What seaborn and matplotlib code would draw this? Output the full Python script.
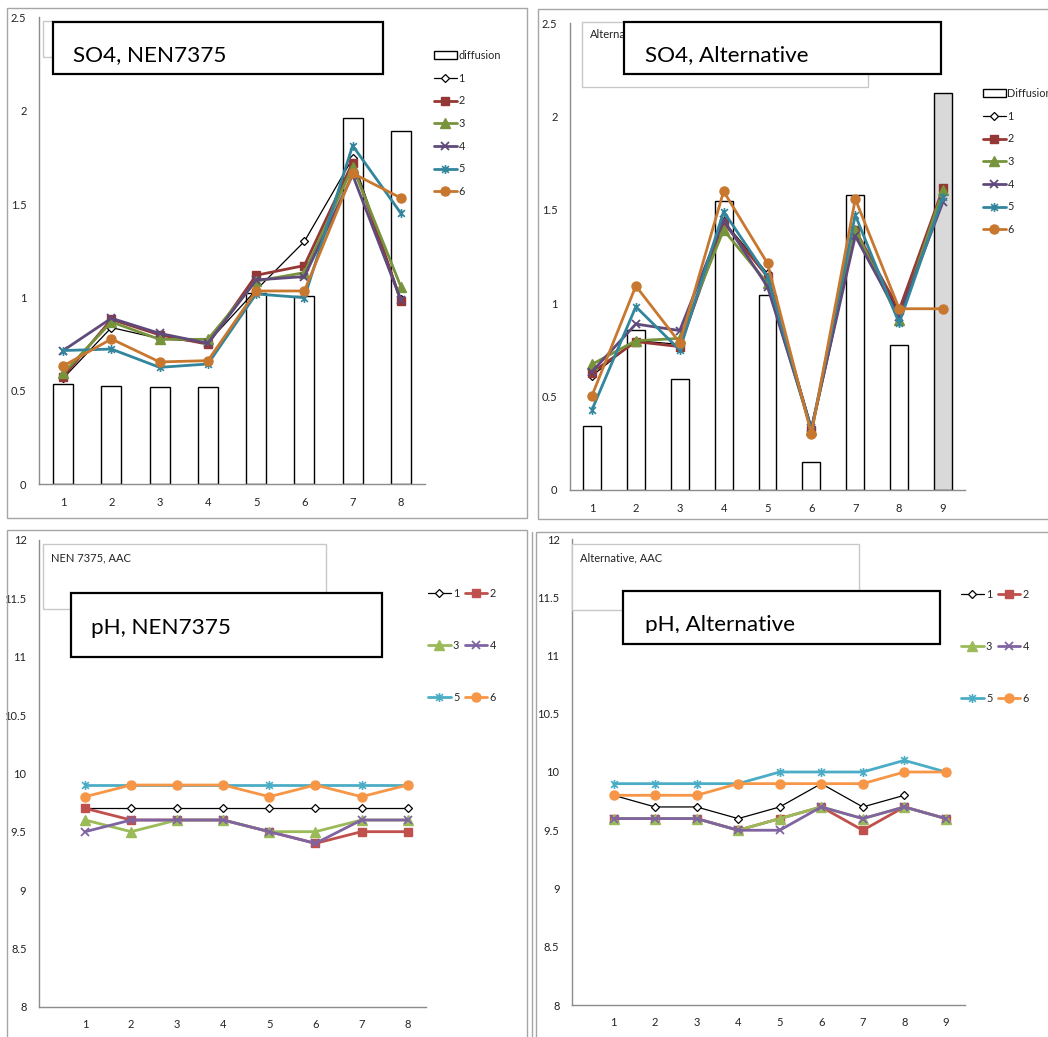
import numpy as np
import matplotlib
matplotlib.use("Agg")
import matplotlib.pyplot as plt
import seaborn as sns
from matplotlib.patches import Rectangle
from matplotlib.lines import Line2D
from matplotlib.path import Path

# ---------------- data ----------------
# SO4 leaching, NEN 7375 (8 fractions)
so4_nen_x = [1, 2, 3, 4, 5, 6, 7, 8]
so4_nen_diffusion = [0.535, 0.528, 0.523, 0.519, 1.026, 1.008, 1.963, 1.890]
so4_nen_s1 = [0.567, 0.839, 0.780, 0.760, 1.040, 1.300, 1.745, 0.990]
so4_nen_s2 = [0.576, 0.883, 0.800, 0.750, 1.119, 1.171, 1.722, 0.983]
so4_nen_s3 = [0.594, 0.869, 0.776, 0.776, 1.088, 1.133, 1.700, 1.058]
so4_nen_s4 = [0.716, 0.889, 0.808, 0.755, 1.094, 1.112, 1.656, 0.987]
so4_nen_s5 = [0.716, 0.724, 0.626, 0.644, 1.019, 0.999, 1.813, 1.451]
so4_nen_s6 = [0.633, 0.778, 0.655, 0.662, 1.035, 1.035, 1.665, 1.533]

# SO4 leaching, alternative test (9 fractions)
so4_alt_x = [1, 2, 3, 4, 5, 6, 7, 8, 9]
so4_alt_diffusion = [0.343, 0.857, 0.593, 1.546, 1.043, 0.150, 1.579, 0.775, 2.129]
so4_alt_s1 = [0.611, 0.800, 0.780, 1.440, 1.160, 0.340, 1.375, 0.946, 1.590]
so4_alt_s2 = [0.629, 0.795, 0.768, 1.432, 1.143, 0.320, 1.393, 0.964, 1.616]
so4_alt_s3 = [0.673, 0.800, 0.812, 1.393, 1.107, 0.320, 1.393, 0.910, 1.607]
so4_alt_s4 = [0.634, 0.889, 0.854, 1.446, 1.089, 0.330, 1.360, 0.929, 1.545]
so4_alt_s5 = [0.429, 0.982, 0.750, 1.491, 1.143, 0.320, 1.473, 0.893, 1.571]
so4_alt_s6 = [0.505, 1.093, 0.789, 1.600, 1.214, 0.300, 1.559, 0.971, 0.971]

# pH, NEN 7375
ph_nen_x = [1, 2, 3, 4, 5, 6, 7, 8]
ph_nen_s1 = [9.7, 9.7, 9.7, 9.7, 9.7, 9.7, 9.7, 9.7]
ph_nen_s2 = [9.7, 9.6, 9.6, 9.6, 9.5, 9.4, 9.5, 9.5]
ph_nen_s3 = [9.6, 9.5, 9.6, 9.6, 9.5, 9.5, 9.6, 9.6]
ph_nen_s4 = [9.5, 9.6, 9.6, 9.6, 9.5, 9.4, 9.6, 9.6]
ph_nen_s5 = [9.9, 9.9, 9.9, 9.9, 9.9, 9.9, 9.9, 9.9]
ph_nen_s6 = [9.8, 9.9, 9.9, 9.9, 9.8, 9.9, 9.8, 9.9]

# pH, alternative test
ph_alt_x = [1, 2, 3, 4, 5, 6, 7, 8, 9]
ph_alt_s1 = [9.8, 9.7, 9.7, 9.6, 9.7, 9.9, 9.7, 9.8, np.nan]
ph_alt_s2 = [9.6, 9.6, 9.6, 9.5, 9.6, 9.7, 9.5, 9.7, 9.6]
ph_alt_s3 = [9.6, 9.6, 9.6, 9.5, 9.6, 9.7, 9.6, 9.7, 9.6]
ph_alt_s4 = [9.6, 9.6, 9.6, 9.5, 9.5, 9.7, 9.6, 9.7, 9.6]
ph_alt_s5 = [9.9, 9.9, 9.9, 9.9, 10.0, 10.0, 10.0, 10.1, 10.0]
ph_alt_s6 = [9.8, 9.8, 9.8, 9.9, 9.9, 9.9, 9.9, 10.0, 10.0]

series_labels = ["1", "2", "3", "4", "5", "6"]

# ---------------- style ----------------
sns.set_style("white")
plt.rcParams["font.family"] = ["Lato", "DejaVu Sans"]

W, H = 1048, 1037
fig = plt.figure(figsize=(W / 100, H / 100), dpi=100)

GRAY = "#8c8c8c"
FRAME = "#a6a6a6"
dark_colors = ["black", "#953735", "#77933C", "#604A7B", "#31859C", "#C8772F"]
light_colors = ["black", "#C0504D", "#9BBB59", "#8064A2", "#4BACC6", "#F79646"]

# asterisk marker: vertical bar plus a cross
STAR = Path([(0, -1), (0, 1), (-0.75, -0.75), (0.75, 0.75), (-0.75, 0.75), (0.75, -0.75)],
            [Path.MOVETO, Path.LINETO, Path.MOVETO, Path.LINETO, Path.MOVETO, Path.LINETO])

marker_style = [
    dict(marker="D", markersize=4, linewidth=0.9, markeredgewidth=0.9, white=True),
    dict(marker="s", markersize=5.8, linewidth=2.0, markeredgewidth=1.0),
    dict(marker="^", markersize=6.5, linewidth=2.0, markeredgewidth=1.0),
    dict(marker="x", markersize=5.5, linewidth=2.0, markeredgewidth=1.3),
    dict(marker=STAR, markersize=6.5, linewidth=2.0, markeredgewidth=1.2),
    dict(marker="o", markersize=6.5, linewidth=2.0, markeredgewidth=1.0),
]

TICK_FS = 8
LEG_FS = 7.8


def fx(x):
    return x / W


def fy(y):
    return 1 - y / H


def add_rect(x0, y0, x1, y1, **kw):
    r = Rectangle((fx(x0), fy(y1)), fx(x1) - fx(x0), fy(y0) - fy(y1),
                  transform=fig.transFigure, **kw)
    fig.add_artist(r)
    return r


def add_axes(l, t, r, b):
    ax = fig.add_axes([fx(l), fy(b), fx(r) - fx(l), fy(t) - fy(b)])
    ax.patch.set_alpha(0)
    return ax


def fmt(v):
    return f"{v:g}"


def draw_lines(ax, x, series, colors):
    for vals, col, st in zip(series, colors, marker_style):
        st = dict(st)
        white = st.pop("white", False)
        sns.lineplot(x=x, y=vals, ax=ax, color=col, markeredgecolor=col,
                     markerfacecolor="white" if white else col,
                     legend=False, zorder=3, **st)


def style_axes(ax, x, xlim, bounds, yticks, ylim):
    ax.set_xlim(*xlim)
    ax.set_ylim(*ylim)
    ax.set_xticks(x)
    ax.set_xticklabels([str(v) for v in x])
    ax.set_xticks(bounds, minor=True)
    ax.set_yticks(yticks)
    ax.set_yticklabels([fmt(v) for v in yticks])
    ax.tick_params(axis="x", which="major", length=0, pad=9, labelsize=TICK_FS, labelcolor="#222222")
    ax.tick_params(axis="x", which="minor", length=4, width=1, color=GRAY, direction="out")
    ax.tick_params(axis="y", which="major", length=4, width=1, color=GRAY, direction="out",
                   pad=5, labelsize=TICK_FS, labelcolor="#222222")
    ax.set_xlabel("")
    ax.set_ylabel("")
    for s in ("top", "right"):
        ax.spines[s].set_visible(False)
    for s in ("left", "bottom"):
        ax.spines[s].set_color(GRAY)
        ax.spines[s].set_linewidth(1)


def legend_handles(colors):
    hs = []
    for col, st in zip(colors, marker_style):
        st = dict(st)
        white = st.pop("white", False)
        hs.append(Line2D([], [], color=col, markeredgecolor=col,
                         markerfacecolor="white" if white else col, **st))
    return hs


# ---------------- chart area frames ----------------
add_rect(7, 8, 527, 518, fill=False, edgecolor=FRAME, linewidth=1, zorder=0.5)
add_rect(538, 9, 1060, 519, fill=False, edgecolor=FRAME, linewidth=1, zorder=0.5)
add_rect(7, 530, 527, 1060, fill=False, edgecolor=FRAME, linewidth=1, zorder=0.5)
add_rect(536, 532, 1060, 1060, fill=False, edgecolor=FRAME, linewidth=1, zorder=0.5)
fig.add_artist(Line2D([fx(532), fx(532)], [fy(532), fy(1040)], transform=fig.transFigure,
                      color=FRAME, linewidth=1, zorder=0.5))

# ---------------- SO4, NEN7375 ----------------
ax1 = add_axes(39, 17.3, 425, 484.3)
sns.barplot(x=so4_nen_x, y=so4_nen_diffusion, native_scale=True, width=0.41,
            color="white", edgecolor="black", linewidth=1, ax=ax1, zorder=2)
for p in ax1.patches:
    p.set_facecolor("white")
draw_lines(ax1, so4_nen_x,
           [so4_nen_s1, so4_nen_s2, so4_nen_s3, so4_nen_s4, so4_nen_s5, so4_nen_s6], dark_colors)
style_axes(ax1, so4_nen_x, (0.5, 8.5), np.arange(0.5, 8.6, 1), np.arange(0, 2.51, 0.5), (0, 2.5))
h1 = [Rectangle((0, 0), 1, 1, facecolor="white", edgecolor="black", linewidth=1)] + legend_handles(dark_colors)
ax1.legend(h1, ["diffusion"] + series_labels, loc="upper left",
           bbox_to_anchor=(fx(434), fy(50)), bbox_transform=fig.transFigure,
           frameon=False, fontsize=LEG_FS, handlelength=2.1, handleheight=0.75,
           handletextpad=0.15, labelspacing=1.08, borderpad=0, borderaxespad=0)

# ---------------- SO4, Alternative ----------------
ax2 = add_axes(570, 23.3, 965, 490)
sns.barplot(x=so4_alt_x, y=so4_alt_diffusion, native_scale=True, width=0.41,
            color="white", edgecolor="black", linewidth=1, ax=ax2, zorder=2)
bar_fill = ["white"] * 8 + ["#d9d9d9"]
for p, f in zip(ax2.patches, bar_fill):
    p.set_facecolor(f)
draw_lines(ax2, so4_alt_x,
           [so4_alt_s1, so4_alt_s2, so4_alt_s3, so4_alt_s4, so4_alt_s5, so4_alt_s6], dark_colors)
style_axes(ax2, so4_alt_x, (0.5, 9.5), np.arange(0.5, 9.6, 1), np.arange(0, 2.51, 0.5), (0, 2.5))
h2 = [Rectangle((0, 0), 1, 1, facecolor="white", edgecolor="black", linewidth=1)] + legend_handles(dark_colors)
ax2.legend(h2, ["Diffusion"] + series_labels, loc="upper left",
           bbox_to_anchor=(fx(983), fy(88)), bbox_transform=fig.transFigure,
           frameon=False, fontsize=LEG_FS, handlelength=2.1, handleheight=0.75,
           handletextpad=0.15, labelspacing=1.08, borderpad=0, borderaxespad=0)

# ---------------- pH, NEN7375 ----------------
ax3 = add_axes(39, 540, 426, 1006.7)
draw_lines(ax3, ph_nen_x,
           [ph_nen_s1, ph_nen_s2, ph_nen_s3, ph_nen_s4, ph_nen_s5, ph_nen_s6], light_colors)
style_axes(ax3, ph_nen_x, (0, 8.4), np.arange(0.5, 7.6, 1), np.arange(8, 12.01, 0.5), (8, 12))
h3 = legend_handles(light_colors)
order = [0, 2, 4, 1, 3, 5]
ax3.legend([h3[i] for i in order], [series_labels[i] for i in order], loc="upper left", ncol=2,
           bbox_to_anchor=(fx(428), fy(588)), bbox_transform=fig.transFigure,
           frameon=False, fontsize=LEG_FS, handlelength=2.1, handleheight=0.75,
           handletextpad=0.2, labelspacing=3.78, columnspacing=0.5, borderpad=0, borderaxespad=0)

# ---------------- pH, Alternative ----------------
ax4 = add_axes(572, 539, 965, 1005)
draw_lines(ax4, ph_alt_x,
           [ph_alt_s1, ph_alt_s2, ph_alt_s3, ph_alt_s4, ph_alt_s5, ph_alt_s6], light_colors)
style_axes(ax4, ph_alt_x, (0, 9.46), np.arange(0.5, 8.6, 1), np.arange(8, 12.01, 0.5), (8, 12))
h4 = legend_handles(light_colors)
ax4.legend([h4[i] for i in order], [series_labels[i] for i in order], loc="upper left", ncol=2,
           bbox_to_anchor=(fx(961), fy(589)), bbox_transform=fig.transFigure,
           frameon=False, fontsize=LEG_FS, handlelength=2.1, handleheight=0.75,
           handletextpad=0.2, labelspacing=3.78, columnspacing=0.5, borderpad=0, borderaxespad=0)

# ---------------- title boxes ----------------
# faint original chart-title frames
add_rect(43, 21, 360, 57, facecolor="white", edgecolor="#c8c8c8", linewidth=1, zorder=4)
fig.text(fx(51), fy(35), "NEN 7375", fontsize=8, va="center", ha="left", color="#222222", zorder=4.1)
add_rect(582, 22, 868, 87, facecolor="white", edgecolor="#c8c8c8", linewidth=1, zorder=4)
fig.text(fx(590), fy(35), "Alternative", fontsize=8, va="center", ha="left", color="#222222", zorder=4.1)
add_rect(43, 544, 326, 609, facecolor="white", edgecolor="#c8c8c8", linewidth=1, zorder=4)
fig.text(fx(51), fy(558), "NEN 7375, AAC", fontsize=8, va="center", ha="left", color="#222222", zorder=4.1)
add_rect(572, 544, 859, 610, facecolor="white", edgecolor="#c8c8c8", linewidth=1, zorder=4)
fig.text(fx(580), fy(558), "Alternative, AAC", fontsize=8, va="center", ha="left", color="#222222", zorder=4.1)

# bold title boxes
add_rect(53, 22, 383, 74, facecolor="white", edgecolor="black", linewidth=1.6, zorder=5)
fig.text(fx(73), fy(55), "SO4, NEN7375", fontsize=16.2, va="center", ha="left", color="black", zorder=6)
add_rect(624, 22, 941, 74, facecolor="white", edgecolor="black", linewidth=1.6, zorder=5)
fig.text(fx(645), fy(55), "SO4, Alternative", fontsize=16.2, va="center", ha="left", color="black", zorder=6)
add_rect(71, 593, 382, 657, facecolor="white", edgecolor="black", linewidth=1.6, zorder=5)
fig.text(fx(91), fy(628), "pH, NEN7375", fontsize=16.2, va="center", ha="left", color="black", zorder=6)
add_rect(623, 591, 940, 644, facecolor="white", edgecolor="black", linewidth=1.6, zorder=5)
clip = Rectangle((fx(624), fy(633)), fx(939) - fx(624), fy(592) - fy(633), transform=fig.transFigure)
t = fig.text(fx(645), fy(625), "pH, Alternative", fontsize=16.2, va="center", ha="left", color="black", zorder=6)
t.set_clip_path(clip)

fig.savefig("out.png", dpi=100, facecolor="white")
